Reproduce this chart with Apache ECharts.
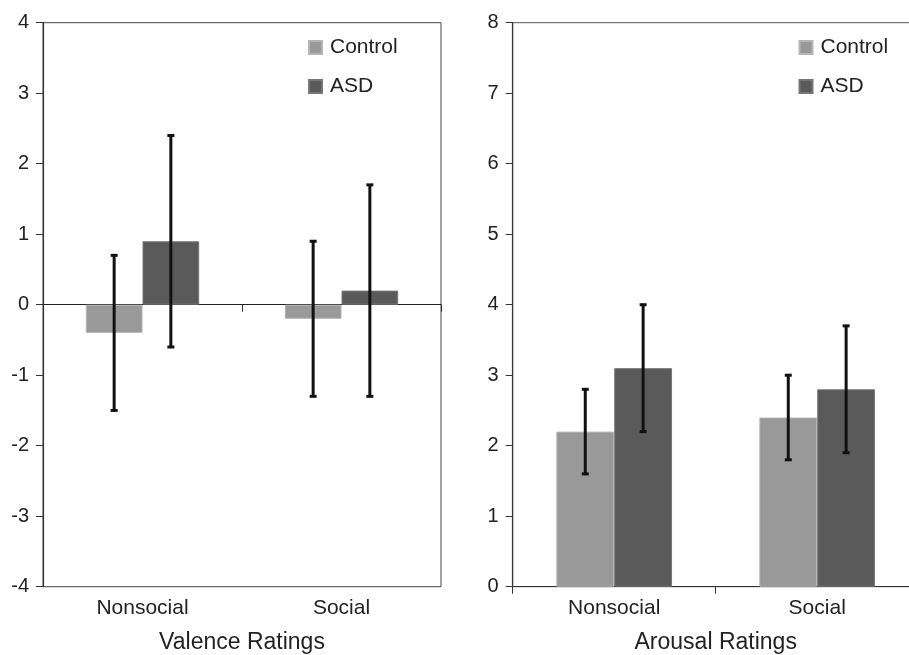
<!DOCTYPE html>
<html>
<head>
<meta charset="utf-8">
<script src="https://cdn.jsdelivr.net/npm/echarts@6/dist/echarts.min.js"></script>
<style>
html,body{margin:0;padding:0;background:#fff;}
#chart{width:909px;height:655px;}
</style>
</head>
<body>
<div id="chart"></div>
<script>
const categories = ['Nonsocial', 'Social'];
const seriesNames = ['Control', 'ASD'];
const valenceControl = [-0.4, -0.2];
const valenceControlErr = [1.1, 1.1];
const valenceASD = [0.9, 0.2];
const valenceASDErr = [1.5, 1.5];
const arousalControl = [2.2, 2.4];
const arousalControlErr = [0.6, 0.6];
const arousalASD = [3.1, 2.8];
const arousalASDErr = [0.9, 0.9];
const valenceTicks = [-4, -3, -2, -1, 0, 1, 2, 3, 4];
const arousalTicks = [0, 1, 2, 3, 4, 5, 6, 7, 8];

const FONT = '"Liberation Sans", Arial, sans-serif';
const COL_CTRL = '#999999';
const COL_ASD = '#5a5a5a';
const BAR_FRAC = 0.285;

function errSeries(name, means, errs, xAxisIndex, yAxisIndex, side) {
  const data = means.map((m, i) => [i, m - errs[i], m + errs[i]]);
  return {
    name: name + ' error',
    type: 'custom',
    xAxisIndex: xAxisIndex,
    yAxisIndex: yAxisIndex,
    z: 10,
    silent: true,
    data: data,
    renderItem: function (params, api) {
      const idx = api.value(0);
      const lo = api.coord([idx, api.value(1)]);
      const hi = api.coord([idx, api.value(2)]);
      const bw = api.size([1, 0])[0] * BAR_FRAC;
      const x = lo[0] + side * bw / 2;
      const cap = 3.5;
      const st = { stroke: '#111', lineWidth: 3 };
      return {
        type: 'group',
        children: [
          { type: 'line', shape: { x1: x, y1: hi[1], x2: x, y2: lo[1] }, style: st },
          { type: 'line', shape: { x1: x - cap, y1: hi[1], x2: x + cap, y2: hi[1] }, style: st },
          { type: 'line', shape: { x1: x - cap, y1: lo[1], x2: x + cap, y2: lo[1] }, style: st }
        ]
      };
    }
  };
}

function barSeries(name, vals, color, border, xAxisIndex, yAxisIndex) {
  return {
    name: name,
    type: 'bar',
    xAxisIndex: xAxisIndex,
    yAxisIndex: yAxisIndex,
    data: vals,
    barWidth: (BAR_FRAC * 100) + '%',
    barGap: '0%',
    itemStyle: { color: color, borderColor: border, borderWidth: 1 },
    emphasis: { disabled: true }
  };
}

const yAxisCommon = {
  type: 'value',
  interval: 1,
  axisLine: { show: true, lineStyle: { color: '#333', width: 1.2 } },
  axisTick: { show: true, length: 7, lineStyle: { color: '#333' } },
  splitLine: { show: false },
  axisLabel: { fontFamily: FONT, fontSize: 20, color: '#222', margin: 14 }
};

const legendCommon = {
  data: seriesNames, top: 32, orient: 'vertical', itemWidth: 13, itemHeight: 13, itemGap: 18,
  icon: 'rect', selectedMode: false,
  textStyle: { fontFamily: FONT, fontSize: 21, color: '#222', padding: [0, 0, 0, 3] }
};

const chart = echarts.init(document.getElementById('chart'), null, { renderer: 'canvas' });
chart.setOption({
  animation: false,
  backgroundColor: '#fff',
  grid: [
    { left: 43, top: 22.7, width: 398, height: 564, outerBoundsMode: 'none', containLabel: false, show: true, borderColor: '#444', borderWidth: 1, backgroundColor: 'transparent' },
    { left: 512.7, top: 22.7, width: 406, height: 564, outerBoundsMode: 'none', containLabel: false, show: true, borderColor: '#555', borderWidth: 1, backgroundColor: 'transparent' }
  ],
  legend: [
    Object.assign({}, legendCommon, { left: 303 }),
    Object.assign({}, legendCommon, { left: 793.5 })
  ],
  xAxis: [
    {
      type: 'category', gridIndex: 0, data: categories,
      axisLine: { show: true, onZero: true, lineStyle: { color: '#222', width: 1.2 } },
      axisTick: { show: true, length: 7, lineStyle: { color: '#333' } },
      axisLabel: { show: false }
    },
    {
      type: 'category', gridIndex: 0, data: categories, position: 'bottom',
      axisLine: { show: false, onZero: false },
      axisTick: { show: false },
      axisLabel: { fontFamily: FONT, fontSize: 21, color: '#222', margin: 11 },
      name: 'Valence Ratings', nameLocation: 'middle', nameGap: 44,
      nameTextStyle: { fontFamily: FONT, fontSize: 23, color: '#222' }
    },
    {
      type: 'category', gridIndex: 1, data: categories,
      axisLine: { show: true, onZero: true, lineStyle: { color: '#333', width: 1.2 } },
      axisTick: { show: true, length: 7, lineStyle: { color: '#333' } },
      axisLabel: { fontFamily: FONT, fontSize: 21, color: '#222', margin: 11 },
      name: 'Arousal Ratings', nameLocation: 'middle', nameGap: 44,
      nameTextStyle: { fontFamily: FONT, fontSize: 23, color: '#222' }
    }
  ],
  yAxis: [
    Object.assign({}, yAxisCommon, { gridIndex: 0, min: valenceTicks[0], max: valenceTicks[valenceTicks.length - 1] }),
    Object.assign({}, yAxisCommon, { gridIndex: 1, min: arousalTicks[0], max: arousalTicks[arousalTicks.length - 1] })
  ],
  series: [
    barSeries('Control', valenceControl, COL_CTRL, '#b5b5b5', 0, 0),
    barSeries('ASD', valenceASD, COL_ASD, '#777777', 0, 0),
    errSeries('Control', valenceControl, valenceControlErr, 0, 0, -1),
    errSeries('ASD', valenceASD, valenceASDErr, 0, 0, 1),
    barSeries('Control', arousalControl, COL_CTRL, '#b5b5b5', 2, 1),
    barSeries('ASD', arousalASD, COL_ASD, '#777777', 2, 1),
    errSeries('Control', arousalControl, arousalControlErr, 2, 1, -1),
    errSeries('ASD', arousalASD, arousalASDErr, 2, 1, 1)
  ]
});
</script>
</body>
</html>
